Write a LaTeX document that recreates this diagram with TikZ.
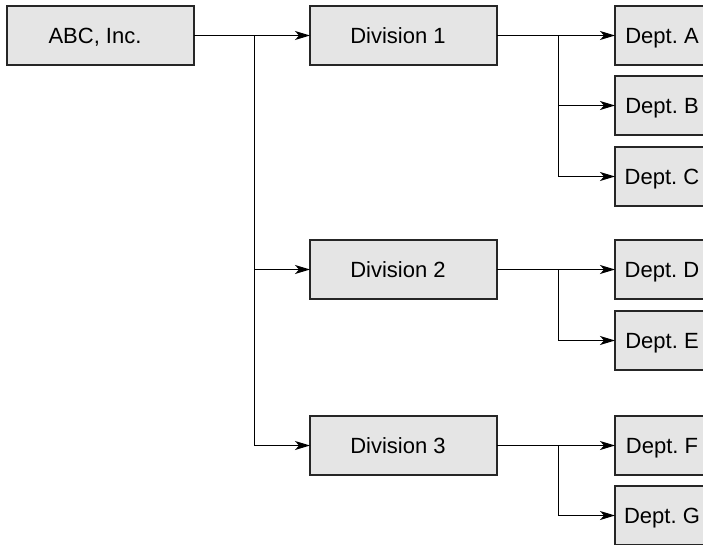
\documentclass[tikz,border=0pt]{standalone}
\usepackage{fontspec}
\setmainfont{Liberation Sans}
\usetikzlibrary{arrows.meta}
\frenchspacing
\begin{document}
\begin{tikzpicture}[x=1pt,y=-1pt,
  orgbox/.style={draw=black!85, line width=1.2pt, fill=gray!20,
    inner sep=0pt, outer sep=0pt, minimum height=59pt,
    text height=16pt, text depth=0pt,
    font=\fontsize{22}{26}\selectfont},
  % labels in the wide boxes sit a little left of centre
  widebox/.style={orgbox, minimum width=187pt,
    execute at end node={\hspace*{11pt}}},
  deptbox/.style={orgbox, minimum width=94pt},
  link/.style={draw=black, line width=1.2pt,
    -{Stealth[length=15pt,width=9pt,inset=4pt]}},
  plain/.style={draw=black, line width=1.2pt}]
\useasboundingbox (0,0) rectangle (703,545);
\clip (0,0) rectangle (703,545);

% company and divisions
\node[widebox] (abc)  at (100.5,35.5)  {ABC, Inc.};
\node[widebox] (div1) at (403.5,35.5)  {Division 1};
\node[widebox] (div2) at (403.5,269.5) {Division 2};
\node[widebox] (div3) at (403.5,445.5) {Division 3};

% departments
\node[deptbox] (da) at (662,35.5)  {Dept. A};
\node[deptbox] (db) at (662,105.5) {Dept. B};
\node[deptbox] (dc) at (662,176.5) {Dept. C};
\node[deptbox] (dd) at (662,269.5) {Dept. D};
\node[deptbox] (de) at (662,340.5) {Dept. E};
\node[deptbox] (df) at (662,445.5) {Dept. F};
\node[deptbox] (dg) at (662,515.5) {Dept. G};

% branch points
\coordinate (t0) at (254.5,35.5);
\coordinate (t1) at (558.5,35.5);
\coordinate (t2) at (558.5,269.5);
\coordinate (t3) at (558.5,445.5);

% company to divisions
\draw[link] (abc.east) -- (div1.west);
\draw[plain] (t0) -- (t0 |- div3.west);
\draw[link] (t0 |- div2.west) -- (div2.west);
\draw[link] (t0 |- div3.west) -- (div3.west);

% division 1 to departments
\draw[link] (div1.east) -- (da.west);
\draw[link] (t1) |- (db.west);
\draw[link] (t1) |- (dc.west);

% division 2 to departments
\draw[link] (div2.east) -- (dd.west);
\draw[link] (t2) |- (de.west);

% division 3 to departments
\draw[link] (div3.east) -- (df.west);
\draw[link] (t3) |- (dg.west);
\end{tikzpicture}
\end{document}
